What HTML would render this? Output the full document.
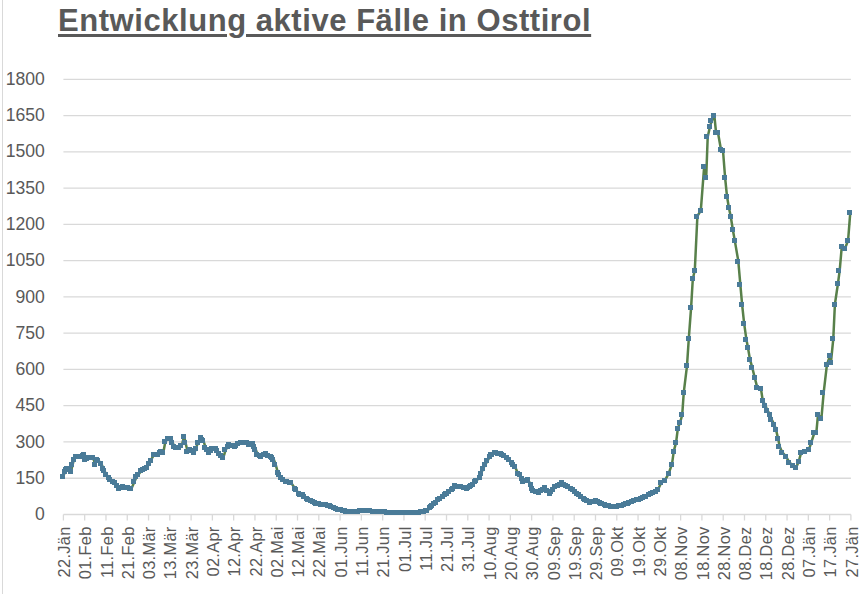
<!DOCTYPE html>
<html><head><meta charset="utf-8"><style>
html,body{margin:0;padding:0;background:#fff;}
body{width:865px;height:594px;overflow:hidden;position:relative;font-family:"Liberation Sans",sans-serif;}
svg{position:absolute;left:0;top:0;}
svg text{font-family:"Liberation Sans",sans-serif;}
.title{position:absolute;left:58px;top:3px;font-size:31px;font-weight:bold;color:#595959;white-space:nowrap;text-decoration:underline;text-decoration-thickness:3px;text-underline-offset:3px;letter-spacing:0.55px;}
</style></head><body>
<svg width="865" height="594" viewBox="0 0 865 594">
<rect x="2" y="0" width="1" height="594" fill="#d9d9d9"/>
<line x1="63.4" y1="478.23" x2="850.9" y2="478.23" stroke="#d9d9d9" stroke-width="1.3"/>
<line x1="63.4" y1="441.97" x2="850.9" y2="441.97" stroke="#d9d9d9" stroke-width="1.3"/>
<line x1="63.4" y1="405.70" x2="850.9" y2="405.70" stroke="#d9d9d9" stroke-width="1.3"/>
<line x1="63.4" y1="369.43" x2="850.9" y2="369.43" stroke="#d9d9d9" stroke-width="1.3"/>
<line x1="63.4" y1="333.17" x2="850.9" y2="333.17" stroke="#d9d9d9" stroke-width="1.3"/>
<line x1="63.4" y1="296.90" x2="850.9" y2="296.90" stroke="#d9d9d9" stroke-width="1.3"/>
<line x1="63.4" y1="260.63" x2="850.9" y2="260.63" stroke="#d9d9d9" stroke-width="1.3"/>
<line x1="63.4" y1="224.37" x2="850.9" y2="224.37" stroke="#d9d9d9" stroke-width="1.3"/>
<line x1="63.4" y1="188.10" x2="850.9" y2="188.10" stroke="#d9d9d9" stroke-width="1.3"/>
<line x1="63.4" y1="151.83" x2="850.9" y2="151.83" stroke="#d9d9d9" stroke-width="1.3"/>
<line x1="63.4" y1="115.57" x2="850.9" y2="115.57" stroke="#d9d9d9" stroke-width="1.3"/>
<line x1="63.4" y1="79.30" x2="850.9" y2="79.30" stroke="#d9d9d9" stroke-width="1.3"/>
<line x1="63.4" y1="514.50" x2="850.9" y2="514.50" stroke="#d9d9d9" stroke-width="1.3"/>
<line x1="63.40" y1="514.50" x2="63.40" y2="520.50" stroke="#d9d9d9" stroke-width="1.3"/>
<line x1="84.68" y1="514.50" x2="84.68" y2="520.50" stroke="#d9d9d9" stroke-width="1.3"/>
<line x1="105.97" y1="514.50" x2="105.97" y2="520.50" stroke="#d9d9d9" stroke-width="1.3"/>
<line x1="127.25" y1="514.50" x2="127.25" y2="520.50" stroke="#d9d9d9" stroke-width="1.3"/>
<line x1="148.54" y1="514.50" x2="148.54" y2="520.50" stroke="#d9d9d9" stroke-width="1.3"/>
<line x1="169.82" y1="514.50" x2="169.82" y2="520.50" stroke="#d9d9d9" stroke-width="1.3"/>
<line x1="191.10" y1="514.50" x2="191.10" y2="520.50" stroke="#d9d9d9" stroke-width="1.3"/>
<line x1="212.39" y1="514.50" x2="212.39" y2="520.50" stroke="#d9d9d9" stroke-width="1.3"/>
<line x1="233.67" y1="514.50" x2="233.67" y2="520.50" stroke="#d9d9d9" stroke-width="1.3"/>
<line x1="254.95" y1="514.50" x2="254.95" y2="520.50" stroke="#d9d9d9" stroke-width="1.3"/>
<line x1="276.24" y1="514.50" x2="276.24" y2="520.50" stroke="#d9d9d9" stroke-width="1.3"/>
<line x1="297.52" y1="514.50" x2="297.52" y2="520.50" stroke="#d9d9d9" stroke-width="1.3"/>
<line x1="318.81" y1="514.50" x2="318.81" y2="520.50" stroke="#d9d9d9" stroke-width="1.3"/>
<line x1="340.09" y1="514.50" x2="340.09" y2="520.50" stroke="#d9d9d9" stroke-width="1.3"/>
<line x1="361.37" y1="514.50" x2="361.37" y2="520.50" stroke="#d9d9d9" stroke-width="1.3"/>
<line x1="382.66" y1="514.50" x2="382.66" y2="520.50" stroke="#d9d9d9" stroke-width="1.3"/>
<line x1="403.94" y1="514.50" x2="403.94" y2="520.50" stroke="#d9d9d9" stroke-width="1.3"/>
<line x1="425.22" y1="514.50" x2="425.22" y2="520.50" stroke="#d9d9d9" stroke-width="1.3"/>
<line x1="446.51" y1="514.50" x2="446.51" y2="520.50" stroke="#d9d9d9" stroke-width="1.3"/>
<line x1="467.79" y1="514.50" x2="467.79" y2="520.50" stroke="#d9d9d9" stroke-width="1.3"/>
<line x1="489.08" y1="514.50" x2="489.08" y2="520.50" stroke="#d9d9d9" stroke-width="1.3"/>
<line x1="510.36" y1="514.50" x2="510.36" y2="520.50" stroke="#d9d9d9" stroke-width="1.3"/>
<line x1="531.64" y1="514.50" x2="531.64" y2="520.50" stroke="#d9d9d9" stroke-width="1.3"/>
<line x1="552.93" y1="514.50" x2="552.93" y2="520.50" stroke="#d9d9d9" stroke-width="1.3"/>
<line x1="574.21" y1="514.50" x2="574.21" y2="520.50" stroke="#d9d9d9" stroke-width="1.3"/>
<line x1="595.49" y1="514.50" x2="595.49" y2="520.50" stroke="#d9d9d9" stroke-width="1.3"/>
<line x1="616.78" y1="514.50" x2="616.78" y2="520.50" stroke="#d9d9d9" stroke-width="1.3"/>
<line x1="638.06" y1="514.50" x2="638.06" y2="520.50" stroke="#d9d9d9" stroke-width="1.3"/>
<line x1="659.35" y1="514.50" x2="659.35" y2="520.50" stroke="#d9d9d9" stroke-width="1.3"/>
<line x1="680.63" y1="514.50" x2="680.63" y2="520.50" stroke="#d9d9d9" stroke-width="1.3"/>
<line x1="701.91" y1="514.50" x2="701.91" y2="520.50" stroke="#d9d9d9" stroke-width="1.3"/>
<line x1="723.20" y1="514.50" x2="723.20" y2="520.50" stroke="#d9d9d9" stroke-width="1.3"/>
<line x1="744.48" y1="514.50" x2="744.48" y2="520.50" stroke="#d9d9d9" stroke-width="1.3"/>
<line x1="765.76" y1="514.50" x2="765.76" y2="520.50" stroke="#d9d9d9" stroke-width="1.3"/>
<line x1="787.05" y1="514.50" x2="787.05" y2="520.50" stroke="#d9d9d9" stroke-width="1.3"/>
<line x1="808.33" y1="514.50" x2="808.33" y2="520.50" stroke="#d9d9d9" stroke-width="1.3"/>
<line x1="829.62" y1="514.50" x2="829.62" y2="520.50" stroke="#d9d9d9" stroke-width="1.3"/>
<line x1="850.90" y1="514.50" x2="850.90" y2="520.50" stroke="#d9d9d9" stroke-width="1.3"/>
<text x="44.8" y="520.10" text-anchor="end" font-size="17.6" fill="#595959">0</text>
<text x="44.8" y="483.83" text-anchor="end" font-size="17.6" fill="#595959">150</text>
<text x="44.8" y="447.57" text-anchor="end" font-size="17.6" fill="#595959">300</text>
<text x="44.8" y="411.30" text-anchor="end" font-size="17.6" fill="#595959">450</text>
<text x="44.8" y="375.03" text-anchor="end" font-size="17.6" fill="#595959">600</text>
<text x="44.8" y="338.77" text-anchor="end" font-size="17.6" fill="#595959">750</text>
<text x="44.8" y="302.50" text-anchor="end" font-size="17.6" fill="#595959">900</text>
<text x="44.8" y="266.23" text-anchor="end" font-size="17.6" fill="#595959">1050</text>
<text x="44.8" y="229.97" text-anchor="end" font-size="17.6" fill="#595959">1200</text>
<text x="44.8" y="193.70" text-anchor="end" font-size="17.6" fill="#595959">1350</text>
<text x="44.8" y="157.43" text-anchor="end" font-size="17.6" fill="#595959">1500</text>
<text x="44.8" y="121.17" text-anchor="end" font-size="17.6" fill="#595959">1650</text>
<text x="44.8" y="84.90" text-anchor="end" font-size="17.6" fill="#595959">1800</text>
<text transform="translate(63.40,526.4) rotate(-90)" x="0" y="0.8" text-anchor="end" dy="5.8" font-size="16.4" letter-spacing="0.3" fill="#595959">22.Jän</text>
<text transform="translate(84.68,526.4) rotate(-90)" x="0" y="0.8" text-anchor="end" dy="5.8" font-size="16.4" letter-spacing="0.3" fill="#595959">01.Feb</text>
<text transform="translate(105.97,526.4) rotate(-90)" x="0" y="0.8" text-anchor="end" dy="5.8" font-size="16.4" letter-spacing="0.3" fill="#595959">11.Feb</text>
<text transform="translate(127.25,526.4) rotate(-90)" x="0" y="0.8" text-anchor="end" dy="5.8" font-size="16.4" letter-spacing="0.3" fill="#595959">21.Feb</text>
<text transform="translate(148.54,526.4) rotate(-90)" x="0" y="0.8" text-anchor="end" dy="5.8" font-size="16.4" letter-spacing="0.3" fill="#595959">03.Mär</text>
<text transform="translate(169.82,526.4) rotate(-90)" x="0" y="0.8" text-anchor="end" dy="5.8" font-size="16.4" letter-spacing="0.3" fill="#595959">13.Mär</text>
<text transform="translate(191.10,526.4) rotate(-90)" x="0" y="0.8" text-anchor="end" dy="5.8" font-size="16.4" letter-spacing="0.3" fill="#595959">23.Mär</text>
<text transform="translate(212.39,526.4) rotate(-90)" x="0" y="0.8" text-anchor="end" dy="5.8" font-size="16.4" letter-spacing="0.3" fill="#595959">02.Apr</text>
<text transform="translate(233.67,526.4) rotate(-90)" x="0" y="0.8" text-anchor="end" dy="5.8" font-size="16.4" letter-spacing="0.3" fill="#595959">12.Apr</text>
<text transform="translate(254.95,526.4) rotate(-90)" x="0" y="0.8" text-anchor="end" dy="5.8" font-size="16.4" letter-spacing="0.3" fill="#595959">22.Apr</text>
<text transform="translate(276.24,526.4) rotate(-90)" x="0" y="0.8" text-anchor="end" dy="5.8" font-size="16.4" letter-spacing="0.3" fill="#595959">02.Mai</text>
<text transform="translate(297.52,526.4) rotate(-90)" x="0" y="0.8" text-anchor="end" dy="5.8" font-size="16.4" letter-spacing="0.3" fill="#595959">12.Mai</text>
<text transform="translate(318.81,526.4) rotate(-90)" x="0" y="0.8" text-anchor="end" dy="5.8" font-size="16.4" letter-spacing="0.3" fill="#595959">22.Mai</text>
<text transform="translate(340.09,526.4) rotate(-90)" x="0" y="0.8" text-anchor="end" dy="5.8" font-size="16.4" letter-spacing="0.3" fill="#595959">01.Jun</text>
<text transform="translate(361.37,526.4) rotate(-90)" x="0" y="0.8" text-anchor="end" dy="5.8" font-size="16.4" letter-spacing="0.3" fill="#595959">11.Jun</text>
<text transform="translate(382.66,526.4) rotate(-90)" x="0" y="0.8" text-anchor="end" dy="5.8" font-size="16.4" letter-spacing="0.3" fill="#595959">21.Jun</text>
<text transform="translate(403.94,526.4) rotate(-90)" x="0" y="0.8" text-anchor="end" dy="5.8" font-size="16.4" letter-spacing="0.3" fill="#595959">01.Jul</text>
<text transform="translate(425.22,526.4) rotate(-90)" x="0" y="0.8" text-anchor="end" dy="5.8" font-size="16.4" letter-spacing="0.3" fill="#595959">11.Jul</text>
<text transform="translate(446.51,526.4) rotate(-90)" x="0" y="0.8" text-anchor="end" dy="5.8" font-size="16.4" letter-spacing="0.3" fill="#595959">21.Jul</text>
<text transform="translate(467.79,526.4) rotate(-90)" x="0" y="0.8" text-anchor="end" dy="5.8" font-size="16.4" letter-spacing="0.3" fill="#595959">31.Jul</text>
<text transform="translate(489.08,526.4) rotate(-90)" x="0" y="0.8" text-anchor="end" dy="5.8" font-size="16.4" letter-spacing="0.3" fill="#595959">10.Aug</text>
<text transform="translate(510.36,526.4) rotate(-90)" x="0" y="0.8" text-anchor="end" dy="5.8" font-size="16.4" letter-spacing="0.3" fill="#595959">20.Aug</text>
<text transform="translate(531.64,526.4) rotate(-90)" x="0" y="0.8" text-anchor="end" dy="5.8" font-size="16.4" letter-spacing="0.3" fill="#595959">30.Aug</text>
<text transform="translate(552.93,526.4) rotate(-90)" x="0" y="0.8" text-anchor="end" dy="5.8" font-size="16.4" letter-spacing="0.3" fill="#595959">09.Sep</text>
<text transform="translate(574.21,526.4) rotate(-90)" x="0" y="0.8" text-anchor="end" dy="5.8" font-size="16.4" letter-spacing="0.3" fill="#595959">19.Sep</text>
<text transform="translate(595.49,526.4) rotate(-90)" x="0" y="0.8" text-anchor="end" dy="5.8" font-size="16.4" letter-spacing="0.3" fill="#595959">29.Sep</text>
<text transform="translate(616.78,526.4) rotate(-90)" x="0" y="0.8" text-anchor="end" dy="5.8" font-size="16.4" letter-spacing="0.3" fill="#595959">09.Okt</text>
<text transform="translate(638.06,526.4) rotate(-90)" x="0" y="0.8" text-anchor="end" dy="5.8" font-size="16.4" letter-spacing="0.3" fill="#595959">19.Okt</text>
<text transform="translate(659.35,526.4) rotate(-90)" x="0" y="0.8" text-anchor="end" dy="5.8" font-size="16.4" letter-spacing="0.3" fill="#595959">29.Okt</text>
<text transform="translate(680.63,526.4) rotate(-90)" x="0" y="0.8" text-anchor="end" dy="5.8" font-size="16.4" letter-spacing="0.3" fill="#595959">08.Nov</text>
<text transform="translate(701.91,526.4) rotate(-90)" x="0" y="0.8" text-anchor="end" dy="5.8" font-size="16.4" letter-spacing="0.3" fill="#595959">18.Nov</text>
<text transform="translate(723.20,526.4) rotate(-90)" x="0" y="0.8" text-anchor="end" dy="5.8" font-size="16.4" letter-spacing="0.3" fill="#595959">28.Nov</text>
<text transform="translate(744.48,526.4) rotate(-90)" x="0" y="0.8" text-anchor="end" dy="5.8" font-size="16.4" letter-spacing="0.3" fill="#595959">08.Dez</text>
<text transform="translate(765.76,526.4) rotate(-90)" x="0" y="0.8" text-anchor="end" dy="5.8" font-size="16.4" letter-spacing="0.3" fill="#595959">18.Dez</text>
<text transform="translate(787.05,526.4) rotate(-90)" x="0" y="0.8" text-anchor="end" dy="5.8" font-size="16.4" letter-spacing="0.3" fill="#595959">28.Dez</text>
<text transform="translate(808.33,526.4) rotate(-90)" x="0" y="0.8" text-anchor="end" dy="5.8" font-size="16.4" letter-spacing="0.3" fill="#595959">07.Jän</text>
<text transform="translate(829.62,526.4) rotate(-90)" x="0" y="0.8" text-anchor="end" dy="5.8" font-size="16.4" letter-spacing="0.3" fill="#595959">17.Jän</text>
<text transform="translate(850.90,526.4) rotate(-90)" x="0" y="0.8" text-anchor="end" dy="5.8" font-size="16.4" letter-spacing="0.3" fill="#595959">27.Jän</text>
<polyline points="63.30,476.30 65.00,471.50 67.30,468.60 70.10,468.00 71.00,471.50 73.90,459.40 75.90,456.60 78.70,456.00 81.60,456.00 84.50,454.90 85.60,459.40 89.00,457.20 93.00,457.70 95.30,464.00 97.00,459.40 101.20,463.20 103.20,468.30 106.20,474.30 110.20,479.40 115.30,482.40 119.30,488.50 123.40,486.50 131.50,488.50 136.60,476.80 141.30,470.90 147.20,467.40 150.70,460.30 154.30,454.40 157.80,454.80 161.20,451.40 163.30,452.70 165.40,441.30 168.50,438.50 171.30,438.50 174.10,446.50 176.50,447.20 179.60,447.90 181.70,445.80 184.10,436.40 187.60,451.70 190.40,449.60 194.50,452.70 198.00,442.30 200.80,437.50 203.60,441.00 205.60,447.90 209.10,452.70 212.60,448.60 216.30,448.60 218.70,453.30 223.40,457.40 225.70,449.70 229.30,444.40 235.10,446.20 241.00,442.10 246.90,442.10 249.30,444.40 252.80,443.30 254.60,446.20 257.50,454.40 261.10,456.20 265.80,453.90 271.20,456.20 273.70,459.20 275.70,464.70 277.80,472.30 280.80,477.40 285.90,481.40 290.90,482.40 294.90,488.50 299.00,493.50 303.00,495.00 308.10,499.10 316.50,503.20 323.50,504.30 331.60,506.00 338.50,509.50 346.60,511.20 353.50,511.80 363.90,510.10 373.20,511.20 381.50,511.20 390.70,513.00 398.80,512.40 413.90,513.00 424.30,511.20 427.70,510.70 431.20,506.00 435.80,502.00 440.40,498.00 446.20,493.90 452.00,489.90 455.50,485.80 461.20,486.40 467.00,488.10 471.70,485.80 476.10,480.40 480.10,477.70 482.80,469.00 485.50,464.30 490.90,454.80 495.00,452.10 499.70,453.50 501.20,453.10 506.80,457.20 511.80,462.70 514.80,466.30 517.90,473.30 519.90,474.80 523.40,481.90 528.00,479.90 531.00,485.00 533.50,491.00 539.60,492.00 545.10,487.50 550.20,493.50 555.20,487.00 562.30,482.90 566.40,485.50 571.40,488.50 577.50,493.50 584.20,498.50 590.00,502.00 595.80,500.80 601.50,503.20 606.20,505.50 614.30,506.60 622.30,505.50 629.30,502.60 637.40,499.70 646.60,496.20 653.60,492.70 658.20,489.30 661.30,482.60 665.00,480.40 668.70,473.30 672.00,464.10 673.80,451.10 676.10,442.40 677.90,428.00 680.10,422.40 682.20,415.00 683.80,392.20 687.00,365.90 688.80,338.50 691.10,307.60 692.80,279.00 694.80,270.30 697.40,216.00 700.80,210.60 704.20,166.20 706.20,177.60 707.70,137.00 710.10,126.10 711.70,121.00 714.30,115.20 716.00,132.00 718.00,132.80 721.00,149.70 723.00,150.50 725.10,177.50 727.00,196.30 728.80,207.20 730.70,216.20 732.80,229.50 734.80,240.60 738.30,261.10 740.30,284.10 742.10,304.30 744.10,323.20 746.40,339.60 747.90,347.20 749.90,359.10 752.20,367.40 754.70,377.50 757.30,387.60 760.90,388.40 762.80,401.00 765.50,405.30 767.20,410.30 770.10,414.50 771.70,419.60 774.30,424.60 776.00,429.70 778.00,438.10 779.70,446.50 782.30,452.40 786.10,456.60 789.40,462.50 793.60,465.90 796.20,467.50 798.70,461.60 801.20,452.40 805.40,451.50 808.80,449.90 811.30,442.30 814.30,433.00 816.40,432.20 818.00,414.50 821.40,418.70 823.70,392.30 826.90,364.80 829.90,355.80 830.90,362.80 833.30,338.60 834.90,304.20 838.00,283.20 839.70,270.40 841.80,246.30 845.20,248.00 848.10,240.40 850.30,212.10" fill="none" stroke="#58804a" stroke-width="2.5" stroke-linejoin="round"/>
<rect x="60" y="474" width="5" height="5" fill="#4a7b98"/>
<rect x="62" y="469" width="5" height="5" fill="#4a7b98"/>
<rect x="63" y="467" width="5" height="5" fill="#4a7b98"/>
<rect x="64" y="466" width="5" height="5" fill="#4a7b98"/>
<rect x="65" y="466" width="5" height="5" fill="#4a7b98"/>
<rect x="67" y="466" width="5" height="5" fill="#4a7b98"/>
<rect x="68" y="469" width="5" height="5" fill="#4a7b98"/>
<rect x="69" y="462" width="5" height="5" fill="#4a7b98"/>
<rect x="71" y="457" width="5" height="5" fill="#4a7b98"/>
<rect x="73" y="454" width="5" height="5" fill="#4a7b98"/>
<rect x="76" y="454" width="5" height="5" fill="#4a7b98"/>
<rect x="78" y="454" width="5" height="5" fill="#4a7b98"/>
<rect x="80" y="453" width="5" height="5" fill="#4a7b98"/>
<rect x="81" y="452" width="5" height="5" fill="#4a7b98"/>
<rect x="82" y="457" width="5" height="5" fill="#4a7b98"/>
<rect x="84" y="456" width="5" height="5" fill="#4a7b98"/>
<rect x="86" y="455" width="5" height="5" fill="#4a7b98"/>
<rect x="89" y="455" width="5" height="5" fill="#4a7b98"/>
<rect x="90" y="455" width="5" height="5" fill="#4a7b98"/>
<rect x="92" y="462" width="5" height="5" fill="#4a7b98"/>
<rect x="94" y="457" width="5" height="5" fill="#4a7b98"/>
<rect x="95" y="458" width="5" height="5" fill="#4a7b98"/>
<rect x="98" y="461" width="5" height="5" fill="#4a7b98"/>
<rect x="100" y="466" width="5" height="5" fill="#4a7b98"/>
<rect x="101" y="468" width="5" height="5" fill="#4a7b98"/>
<rect x="103" y="472" width="5" height="5" fill="#4a7b98"/>
<rect x="106" y="475" width="5" height="5" fill="#4a7b98"/>
<rect x="107" y="477" width="5" height="5" fill="#4a7b98"/>
<rect x="110" y="479" width="5" height="5" fill="#4a7b98"/>
<rect x="112" y="480" width="5" height="5" fill="#4a7b98"/>
<rect x="114" y="483" width="5" height="5" fill="#4a7b98"/>
<rect x="116" y="486" width="5" height="5" fill="#4a7b98"/>
<rect x="118" y="485" width="5" height="5" fill="#4a7b98"/>
<rect x="120" y="484" width="5" height="5" fill="#4a7b98"/>
<rect x="123" y="485" width="5" height="5" fill="#4a7b98"/>
<rect x="125" y="485" width="5" height="5" fill="#4a7b98"/>
<rect x="127" y="486" width="5" height="5" fill="#4a7b98"/>
<rect x="128" y="486" width="5" height="5" fill="#4a7b98"/>
<rect x="131" y="479" width="5" height="5" fill="#4a7b98"/>
<rect x="133" y="474" width="5" height="5" fill="#4a7b98"/>
<rect x="135" y="472" width="5" height="5" fill="#4a7b98"/>
<rect x="138" y="468" width="5" height="5" fill="#4a7b98"/>
<rect x="140" y="467" width="5" height="5" fill="#4a7b98"/>
<rect x="142" y="466" width="5" height="5" fill="#4a7b98"/>
<rect x="144" y="465" width="5" height="5" fill="#4a7b98"/>
<rect x="146" y="461" width="5" height="5" fill="#4a7b98"/>
<rect x="148" y="458" width="5" height="5" fill="#4a7b98"/>
<rect x="151" y="452" width="5" height="5" fill="#4a7b98"/>
<rect x="152" y="452" width="5" height="5" fill="#4a7b98"/>
<rect x="155" y="452" width="5" height="5" fill="#4a7b98"/>
<rect x="157" y="450" width="5" height="5" fill="#4a7b98"/>
<rect x="158" y="449" width="5" height="5" fill="#4a7b98"/>
<rect x="160" y="450" width="5" height="5" fill="#4a7b98"/>
<rect x="162" y="439" width="5" height="5" fill="#4a7b98"/>
<rect x="165" y="436" width="5" height="5" fill="#4a7b98"/>
<rect x="168" y="436" width="5" height="5" fill="#4a7b98"/>
<rect x="169" y="440" width="5" height="5" fill="#4a7b98"/>
<rect x="171" y="444" width="5" height="5" fill="#4a7b98"/>
<rect x="173" y="445" width="5" height="5" fill="#4a7b98"/>
<rect x="176" y="445" width="5" height="5" fill="#4a7b98"/>
<rect x="178" y="443" width="5" height="5" fill="#4a7b98"/>
<rect x="181" y="434" width="5" height="5" fill="#4a7b98"/>
<rect x="182" y="440" width="5" height="5" fill="#4a7b98"/>
<rect x="184" y="449" width="5" height="5" fill="#4a7b98"/>
<rect x="187" y="447" width="5" height="5" fill="#4a7b98"/>
<rect x="189" y="448" width="5" height="5" fill="#4a7b98"/>
<rect x="191" y="450" width="5" height="5" fill="#4a7b98"/>
<rect x="193" y="446" width="5" height="5" fill="#4a7b98"/>
<rect x="195" y="440" width="5" height="5" fill="#4a7b98"/>
<rect x="198" y="435" width="5" height="5" fill="#4a7b98"/>
<rect x="199" y="437" width="5" height="5" fill="#4a7b98"/>
<rect x="200" y="438" width="5" height="5" fill="#4a7b98"/>
<rect x="202" y="445" width="5" height="5" fill="#4a7b98"/>
<rect x="204" y="447" width="5" height="5" fill="#4a7b98"/>
<rect x="206" y="450" width="5" height="5" fill="#4a7b98"/>
<rect x="208" y="448" width="5" height="5" fill="#4a7b98"/>
<rect x="209" y="446" width="5" height="5" fill="#4a7b98"/>
<rect x="212" y="446" width="5" height="5" fill="#4a7b98"/>
<rect x="213" y="446" width="5" height="5" fill="#4a7b98"/>
<rect x="214" y="448" width="5" height="5" fill="#4a7b98"/>
<rect x="216" y="451" width="5" height="5" fill="#4a7b98"/>
<rect x="218" y="453" width="5" height="5" fill="#4a7b98"/>
<rect x="220" y="455" width="5" height="5" fill="#4a7b98"/>
<rect x="222" y="447" width="5" height="5" fill="#4a7b98"/>
<rect x="225" y="444" width="5" height="5" fill="#4a7b98"/>
<rect x="226" y="442" width="5" height="5" fill="#4a7b98"/>
<rect x="229" y="443" width="5" height="5" fill="#4a7b98"/>
<rect x="232" y="444" width="5" height="5" fill="#4a7b98"/>
<rect x="233" y="443" width="5" height="5" fill="#4a7b98"/>
<rect x="235" y="441" width="5" height="5" fill="#4a7b98"/>
<rect x="238" y="440" width="5" height="5" fill="#4a7b98"/>
<rect x="240" y="440" width="5" height="5" fill="#4a7b98"/>
<rect x="242" y="440" width="5" height="5" fill="#4a7b98"/>
<rect x="244" y="440" width="5" height="5" fill="#4a7b98"/>
<rect x="246" y="442" width="5" height="5" fill="#4a7b98"/>
<rect x="248" y="441" width="5" height="5" fill="#4a7b98"/>
<rect x="250" y="441" width="5" height="5" fill="#4a7b98"/>
<rect x="251" y="444" width="5" height="5" fill="#4a7b98"/>
<rect x="252" y="447" width="5" height="5" fill="#4a7b98"/>
<rect x="254" y="452" width="5" height="5" fill="#4a7b98"/>
<rect x="257" y="453" width="5" height="5" fill="#4a7b98"/>
<rect x="258" y="454" width="5" height="5" fill="#4a7b98"/>
<rect x="261" y="452" width="5" height="5" fill="#4a7b98"/>
<rect x="263" y="451" width="5" height="5" fill="#4a7b98"/>
<rect x="265" y="453" width="5" height="5" fill="#4a7b98"/>
<rect x="268" y="454" width="5" height="5" fill="#4a7b98"/>
<rect x="269" y="455" width="5" height="5" fill="#4a7b98"/>
<rect x="270" y="457" width="5" height="5" fill="#4a7b98"/>
<rect x="272" y="462" width="5" height="5" fill="#4a7b98"/>
<rect x="275" y="470" width="5" height="5" fill="#4a7b98"/>
<rect x="276" y="472" width="5" height="5" fill="#4a7b98"/>
<rect x="278" y="475" width="5" height="5" fill="#4a7b98"/>
<rect x="280" y="477" width="5" height="5" fill="#4a7b98"/>
<rect x="283" y="479" width="5" height="5" fill="#4a7b98"/>
<rect x="284" y="479" width="5" height="5" fill="#4a7b98"/>
<rect x="287" y="480" width="5" height="5" fill="#4a7b98"/>
<rect x="288" y="480" width="5" height="5" fill="#4a7b98"/>
<rect x="292" y="486" width="5" height="5" fill="#4a7b98"/>
<rect x="293" y="487" width="5" height="5" fill="#4a7b98"/>
<rect x="296" y="491" width="5" height="5" fill="#4a7b98"/>
<rect x="297" y="492" width="5" height="5" fill="#4a7b98"/>
<rect x="300" y="492" width="5" height="5" fill="#4a7b98"/>
<rect x="301" y="494" width="5" height="5" fill="#4a7b98"/>
<rect x="304" y="496" width="5" height="5" fill="#4a7b98"/>
<rect x="305" y="497" width="5" height="5" fill="#4a7b98"/>
<rect x="308" y="498" width="5" height="5" fill="#4a7b98"/>
<rect x="310" y="499" width="5" height="5" fill="#4a7b98"/>
<rect x="312" y="500" width="5" height="5" fill="#4a7b98"/>
<rect x="313" y="501" width="5" height="5" fill="#4a7b98"/>
<rect x="316" y="501" width="5" height="5" fill="#4a7b98"/>
<rect x="318" y="502" width="5" height="5" fill="#4a7b98"/>
<rect x="320" y="502" width="5" height="5" fill="#4a7b98"/>
<rect x="323" y="502" width="5" height="5" fill="#4a7b98"/>
<rect x="325" y="503" width="5" height="5" fill="#4a7b98"/>
<rect x="327" y="503" width="5" height="5" fill="#4a7b98"/>
<rect x="328" y="504" width="5" height="5" fill="#4a7b98"/>
<rect x="331" y="505" width="5" height="5" fill="#4a7b98"/>
<rect x="333" y="506" width="5" height="5" fill="#4a7b98"/>
<rect x="335" y="507" width="5" height="5" fill="#4a7b98"/>
<rect x="338" y="507" width="5" height="5" fill="#4a7b98"/>
<rect x="340" y="508" width="5" height="5" fill="#4a7b98"/>
<rect x="342" y="508" width="5" height="5" fill="#4a7b98"/>
<rect x="343" y="509" width="5" height="5" fill="#4a7b98"/>
<rect x="346" y="509" width="5" height="5" fill="#4a7b98"/>
<rect x="348" y="509" width="5" height="5" fill="#4a7b98"/>
<rect x="350" y="509" width="5" height="5" fill="#4a7b98"/>
<rect x="352" y="509" width="5" height="5" fill="#4a7b98"/>
<rect x="355" y="509" width="5" height="5" fill="#4a7b98"/>
<rect x="357" y="508" width="5" height="5" fill="#4a7b98"/>
<rect x="359" y="508" width="5" height="5" fill="#4a7b98"/>
<rect x="361" y="508" width="5" height="5" fill="#4a7b98"/>
<rect x="363" y="508" width="5" height="5" fill="#4a7b98"/>
<rect x="365" y="508" width="5" height="5" fill="#4a7b98"/>
<rect x="367" y="508" width="5" height="5" fill="#4a7b98"/>
<rect x="370" y="509" width="5" height="5" fill="#4a7b98"/>
<rect x="372" y="509" width="5" height="5" fill="#4a7b98"/>
<rect x="374" y="509" width="5" height="5" fill="#4a7b98"/>
<rect x="376" y="509" width="5" height="5" fill="#4a7b98"/>
<rect x="378" y="509" width="5" height="5" fill="#4a7b98"/>
<rect x="380" y="509" width="5" height="5" fill="#4a7b98"/>
<rect x="382" y="509" width="5" height="5" fill="#4a7b98"/>
<rect x="384" y="510" width="5" height="5" fill="#4a7b98"/>
<rect x="388" y="510" width="5" height="5" fill="#4a7b98"/>
<rect x="389" y="510" width="5" height="5" fill="#4a7b98"/>
<rect x="391" y="510" width="5" height="5" fill="#4a7b98"/>
<rect x="393" y="510" width="5" height="5" fill="#4a7b98"/>
<rect x="396" y="510" width="5" height="5" fill="#4a7b98"/>
<rect x="397" y="510" width="5" height="5" fill="#4a7b98"/>
<rect x="399" y="510" width="5" height="5" fill="#4a7b98"/>
<rect x="401" y="510" width="5" height="5" fill="#4a7b98"/>
<rect x="404" y="510" width="5" height="5" fill="#4a7b98"/>
<rect x="406" y="510" width="5" height="5" fill="#4a7b98"/>
<rect x="408" y="510" width="5" height="5" fill="#4a7b98"/>
<rect x="411" y="510" width="5" height="5" fill="#4a7b98"/>
<rect x="412" y="510" width="5" height="5" fill="#4a7b98"/>
<rect x="414" y="510" width="5" height="5" fill="#4a7b98"/>
<rect x="416" y="510" width="5" height="5" fill="#4a7b98"/>
<rect x="418" y="509" width="5" height="5" fill="#4a7b98"/>
<rect x="421" y="509" width="5" height="5" fill="#4a7b98"/>
<rect x="423" y="508" width="5" height="5" fill="#4a7b98"/>
<rect x="424" y="508" width="5" height="5" fill="#4a7b98"/>
<rect x="427" y="505" width="5" height="5" fill="#4a7b98"/>
<rect x="428" y="504" width="5" height="5" fill="#4a7b98"/>
<rect x="429" y="503" width="5" height="5" fill="#4a7b98"/>
<rect x="431" y="501" width="5" height="5" fill="#4a7b98"/>
<rect x="433" y="500" width="5" height="5" fill="#4a7b98"/>
<rect x="435" y="497" width="5" height="5" fill="#4a7b98"/>
<rect x="437" y="496" width="5" height="5" fill="#4a7b98"/>
<rect x="440" y="494" width="5" height="5" fill="#4a7b98"/>
<rect x="442" y="492" width="5" height="5" fill="#4a7b98"/>
<rect x="443" y="491" width="5" height="5" fill="#4a7b98"/>
<rect x="444" y="491" width="5" height="5" fill="#4a7b98"/>
<rect x="446" y="489" width="5" height="5" fill="#4a7b98"/>
<rect x="449" y="487" width="5" height="5" fill="#4a7b98"/>
<rect x="450" y="486" width="5" height="5" fill="#4a7b98"/>
<rect x="452" y="483" width="5" height="5" fill="#4a7b98"/>
<rect x="455" y="484" width="5" height="5" fill="#4a7b98"/>
<rect x="457" y="484" width="5" height="5" fill="#4a7b98"/>
<rect x="458" y="484" width="5" height="5" fill="#4a7b98"/>
<rect x="461" y="485" width="5" height="5" fill="#4a7b98"/>
<rect x="464" y="486" width="5" height="5" fill="#4a7b98"/>
<rect x="465" y="485" width="5" height="5" fill="#4a7b98"/>
<rect x="467" y="484" width="5" height="5" fill="#4a7b98"/>
<rect x="468" y="483" width="5" height="5" fill="#4a7b98"/>
<rect x="470" y="482" width="5" height="5" fill="#4a7b98"/>
<rect x="472" y="479" width="5" height="5" fill="#4a7b98"/>
<rect x="473" y="478" width="5" height="5" fill="#4a7b98"/>
<rect x="477" y="475" width="5" height="5" fill="#4a7b98"/>
<rect x="478" y="471" width="5" height="5" fill="#4a7b98"/>
<rect x="480" y="466" width="5" height="5" fill="#4a7b98"/>
<rect x="482" y="462" width="5" height="5" fill="#4a7b98"/>
<rect x="484" y="458" width="5" height="5" fill="#4a7b98"/>
<rect x="487" y="454" width="5" height="5" fill="#4a7b98"/>
<rect x="488" y="452" width="5" height="5" fill="#4a7b98"/>
<rect x="489" y="452" width="5" height="5" fill="#4a7b98"/>
<rect x="492" y="450" width="5" height="5" fill="#4a7b98"/>
<rect x="493" y="450" width="5" height="5" fill="#4a7b98"/>
<rect x="495" y="451" width="5" height="5" fill="#4a7b98"/>
<rect x="496" y="451" width="5" height="5" fill="#4a7b98"/>
<rect x="498" y="451" width="5" height="5" fill="#4a7b98"/>
<rect x="499" y="452" width="5" height="5" fill="#4a7b98"/>
<rect x="501" y="453" width="5" height="5" fill="#4a7b98"/>
<rect x="504" y="455" width="5" height="5" fill="#4a7b98"/>
<rect x="506" y="457" width="5" height="5" fill="#4a7b98"/>
<rect x="509" y="460" width="5" height="5" fill="#4a7b98"/>
<rect x="510" y="462" width="5" height="5" fill="#4a7b98"/>
<rect x="512" y="464" width="5" height="5" fill="#4a7b98"/>
<rect x="515" y="471" width="5" height="5" fill="#4a7b98"/>
<rect x="517" y="472" width="5" height="5" fill="#4a7b98"/>
<rect x="519" y="476" width="5" height="5" fill="#4a7b98"/>
<rect x="520" y="479" width="5" height="5" fill="#4a7b98"/>
<rect x="523" y="478" width="5" height="5" fill="#4a7b98"/>
<rect x="525" y="477" width="5" height="5" fill="#4a7b98"/>
<rect x="528" y="482" width="5" height="5" fill="#4a7b98"/>
<rect x="529" y="486" width="5" height="5" fill="#4a7b98"/>
<rect x="530" y="488" width="5" height="5" fill="#4a7b98"/>
<rect x="533" y="489" width="5" height="5" fill="#4a7b98"/>
<rect x="536" y="490" width="5" height="5" fill="#4a7b98"/>
<rect x="538" y="488" width="5" height="5" fill="#4a7b98"/>
<rect x="540" y="487" width="5" height="5" fill="#4a7b98"/>
<rect x="542" y="485" width="5" height="5" fill="#4a7b98"/>
<rect x="544" y="488" width="5" height="5" fill="#4a7b98"/>
<rect x="547" y="491" width="5" height="5" fill="#4a7b98"/>
<rect x="548" y="489" width="5" height="5" fill="#4a7b98"/>
<rect x="550" y="487" width="5" height="5" fill="#4a7b98"/>
<rect x="552" y="484" width="5" height="5" fill="#4a7b98"/>
<rect x="555" y="483" width="5" height="5" fill="#4a7b98"/>
<rect x="557" y="482" width="5" height="5" fill="#4a7b98"/>
<rect x="559" y="480" width="5" height="5" fill="#4a7b98"/>
<rect x="561" y="482" width="5" height="5" fill="#4a7b98"/>
<rect x="563" y="483" width="5" height="5" fill="#4a7b98"/>
<rect x="565" y="484" width="5" height="5" fill="#4a7b98"/>
<rect x="568" y="486" width="5" height="5" fill="#4a7b98"/>
<rect x="570" y="487" width="5" height="5" fill="#4a7b98"/>
<rect x="572" y="489" width="5" height="5" fill="#4a7b98"/>
<rect x="574" y="491" width="5" height="5" fill="#4a7b98"/>
<rect x="576" y="492" width="5" height="5" fill="#4a7b98"/>
<rect x="578" y="494" width="5" height="5" fill="#4a7b98"/>
<rect x="581" y="496" width="5" height="5" fill="#4a7b98"/>
<rect x="582" y="497" width="5" height="5" fill="#4a7b98"/>
<rect x="584" y="498" width="5" height="5" fill="#4a7b98"/>
<rect x="587" y="500" width="5" height="5" fill="#4a7b98"/>
<rect x="589" y="499" width="5" height="5" fill="#4a7b98"/>
<rect x="591" y="499" width="5" height="5" fill="#4a7b98"/>
<rect x="593" y="498" width="5" height="5" fill="#4a7b98"/>
<rect x="595" y="499" width="5" height="5" fill="#4a7b98"/>
<rect x="597" y="500" width="5" height="5" fill="#4a7b98"/>
<rect x="598" y="501" width="5" height="5" fill="#4a7b98"/>
<rect x="599" y="501" width="5" height="5" fill="#4a7b98"/>
<rect x="602" y="502" width="5" height="5" fill="#4a7b98"/>
<rect x="603" y="503" width="5" height="5" fill="#4a7b98"/>
<rect x="606" y="503" width="5" height="5" fill="#4a7b98"/>
<rect x="608" y="504" width="5" height="5" fill="#4a7b98"/>
<rect x="610" y="504" width="5" height="5" fill="#4a7b98"/>
<rect x="611" y="504" width="5" height="5" fill="#4a7b98"/>
<rect x="612" y="504" width="5" height="5" fill="#4a7b98"/>
<rect x="614" y="504" width="5" height="5" fill="#4a7b98"/>
<rect x="616" y="503" width="5" height="5" fill="#4a7b98"/>
<rect x="619" y="503" width="5" height="5" fill="#4a7b98"/>
<rect x="621" y="502" width="5" height="5" fill="#4a7b98"/>
<rect x="623" y="501" width="5" height="5" fill="#4a7b98"/>
<rect x="625" y="501" width="5" height="5" fill="#4a7b98"/>
<rect x="626" y="500" width="5" height="5" fill="#4a7b98"/>
<rect x="629" y="499" width="5" height="5" fill="#4a7b98"/>
<rect x="631" y="498" width="5" height="5" fill="#4a7b98"/>
<rect x="634" y="497" width="5" height="5" fill="#4a7b98"/>
<rect x="636" y="497" width="5" height="5" fill="#4a7b98"/>
<rect x="638" y="496" width="5" height="5" fill="#4a7b98"/>
<rect x="640" y="495" width="5" height="5" fill="#4a7b98"/>
<rect x="642" y="494" width="5" height="5" fill="#4a7b98"/>
<rect x="643" y="494" width="5" height="5" fill="#4a7b98"/>
<rect x="646" y="492" width="5" height="5" fill="#4a7b98"/>
<rect x="648" y="491" width="5" height="5" fill="#4a7b98"/>
<rect x="650" y="490" width="5" height="5" fill="#4a7b98"/>
<rect x="653" y="489" width="5" height="5" fill="#4a7b98"/>
<rect x="655" y="487" width="5" height="5" fill="#4a7b98"/>
<rect x="658" y="480" width="5" height="5" fill="#4a7b98"/>
<rect x="662" y="478" width="5" height="5" fill="#4a7b98"/>
<rect x="666" y="471" width="5" height="5" fill="#4a7b98"/>
<rect x="669" y="462" width="5" height="5" fill="#4a7b98"/>
<rect x="671" y="449" width="5" height="5" fill="#4a7b98"/>
<rect x="673" y="440" width="5" height="5" fill="#4a7b98"/>
<rect x="675" y="426" width="5" height="5" fill="#4a7b98"/>
<rect x="677" y="420" width="5" height="5" fill="#4a7b98"/>
<rect x="679" y="412" width="5" height="5" fill="#4a7b98"/>
<rect x="681" y="390" width="5" height="5" fill="#4a7b98"/>
<rect x="684" y="363" width="5" height="5" fill="#4a7b98"/>
<rect x="686" y="336" width="5" height="5" fill="#4a7b98"/>
<rect x="688" y="305" width="5" height="5" fill="#4a7b98"/>
<rect x="690" y="276" width="5" height="5" fill="#4a7b98"/>
<rect x="692" y="268" width="5" height="5" fill="#4a7b98"/>
<rect x="694" y="214" width="5" height="5" fill="#4a7b98"/>
<rect x="698" y="208" width="5" height="5" fill="#4a7b98"/>
<rect x="701" y="164" width="5" height="5" fill="#4a7b98"/>
<rect x="703" y="175" width="5" height="5" fill="#4a7b98"/>
<rect x="704" y="134" width="5" height="5" fill="#4a7b98"/>
<rect x="707" y="124" width="5" height="5" fill="#4a7b98"/>
<rect x="708" y="118" width="5" height="5" fill="#4a7b98"/>
<rect x="711" y="113" width="5" height="5" fill="#4a7b98"/>
<rect x="713" y="130" width="5" height="5" fill="#4a7b98"/>
<rect x="715" y="130" width="5" height="5" fill="#4a7b98"/>
<rect x="718" y="147" width="5" height="5" fill="#4a7b98"/>
<rect x="720" y="148" width="5" height="5" fill="#4a7b98"/>
<rect x="722" y="175" width="5" height="5" fill="#4a7b98"/>
<rect x="724" y="194" width="5" height="5" fill="#4a7b98"/>
<rect x="726" y="205" width="5" height="5" fill="#4a7b98"/>
<rect x="728" y="214" width="5" height="5" fill="#4a7b98"/>
<rect x="730" y="227" width="5" height="5" fill="#4a7b98"/>
<rect x="732" y="238" width="5" height="5" fill="#4a7b98"/>
<rect x="735" y="259" width="5" height="5" fill="#4a7b98"/>
<rect x="737" y="282" width="5" height="5" fill="#4a7b98"/>
<rect x="739" y="302" width="5" height="5" fill="#4a7b98"/>
<rect x="741" y="321" width="5" height="5" fill="#4a7b98"/>
<rect x="743" y="337" width="5" height="5" fill="#4a7b98"/>
<rect x="745" y="345" width="5" height="5" fill="#4a7b98"/>
<rect x="747" y="357" width="5" height="5" fill="#4a7b98"/>
<rect x="749" y="365" width="5" height="5" fill="#4a7b98"/>
<rect x="752" y="375" width="5" height="5" fill="#4a7b98"/>
<rect x="754" y="385" width="5" height="5" fill="#4a7b98"/>
<rect x="758" y="386" width="5" height="5" fill="#4a7b98"/>
<rect x="760" y="398" width="5" height="5" fill="#4a7b98"/>
<rect x="762" y="403" width="5" height="5" fill="#4a7b98"/>
<rect x="764" y="408" width="5" height="5" fill="#4a7b98"/>
<rect x="767" y="412" width="5" height="5" fill="#4a7b98"/>
<rect x="768" y="417" width="5" height="5" fill="#4a7b98"/>
<rect x="771" y="422" width="5" height="5" fill="#4a7b98"/>
<rect x="773" y="427" width="5" height="5" fill="#4a7b98"/>
<rect x="775" y="436" width="5" height="5" fill="#4a7b98"/>
<rect x="776" y="444" width="5" height="5" fill="#4a7b98"/>
<rect x="779" y="450" width="5" height="5" fill="#4a7b98"/>
<rect x="783" y="454" width="5" height="5" fill="#4a7b98"/>
<rect x="786" y="460" width="5" height="5" fill="#4a7b98"/>
<rect x="790" y="463" width="5" height="5" fill="#4a7b98"/>
<rect x="793" y="465" width="5" height="5" fill="#4a7b98"/>
<rect x="796" y="459" width="5" height="5" fill="#4a7b98"/>
<rect x="798" y="450" width="5" height="5" fill="#4a7b98"/>
<rect x="802" y="449" width="5" height="5" fill="#4a7b98"/>
<rect x="806" y="447" width="5" height="5" fill="#4a7b98"/>
<rect x="808" y="440" width="5" height="5" fill="#4a7b98"/>
<rect x="811" y="430" width="5" height="5" fill="#4a7b98"/>
<rect x="813" y="430" width="5" height="5" fill="#4a7b98"/>
<rect x="815" y="412" width="5" height="5" fill="#4a7b98"/>
<rect x="818" y="416" width="5" height="5" fill="#4a7b98"/>
<rect x="820" y="390" width="5" height="5" fill="#4a7b98"/>
<rect x="824" y="362" width="5" height="5" fill="#4a7b98"/>
<rect x="827" y="353" width="5" height="5" fill="#4a7b98"/>
<rect x="828" y="360" width="5" height="5" fill="#4a7b98"/>
<rect x="830" y="336" width="5" height="5" fill="#4a7b98"/>
<rect x="832" y="302" width="5" height="5" fill="#4a7b98"/>
<rect x="835" y="281" width="5" height="5" fill="#4a7b98"/>
<rect x="836" y="268" width="5" height="5" fill="#4a7b98"/>
<rect x="839" y="244" width="5" height="5" fill="#4a7b98"/>
<rect x="842" y="246" width="5" height="5" fill="#4a7b98"/>
<rect x="845" y="238" width="5" height="5" fill="#4a7b98"/>
<rect x="847" y="210" width="5" height="5" fill="#4a7b98"/>
</svg>
<div class="title">Entwicklung aktive Fälle in Osttirol</div>
</body></html>
